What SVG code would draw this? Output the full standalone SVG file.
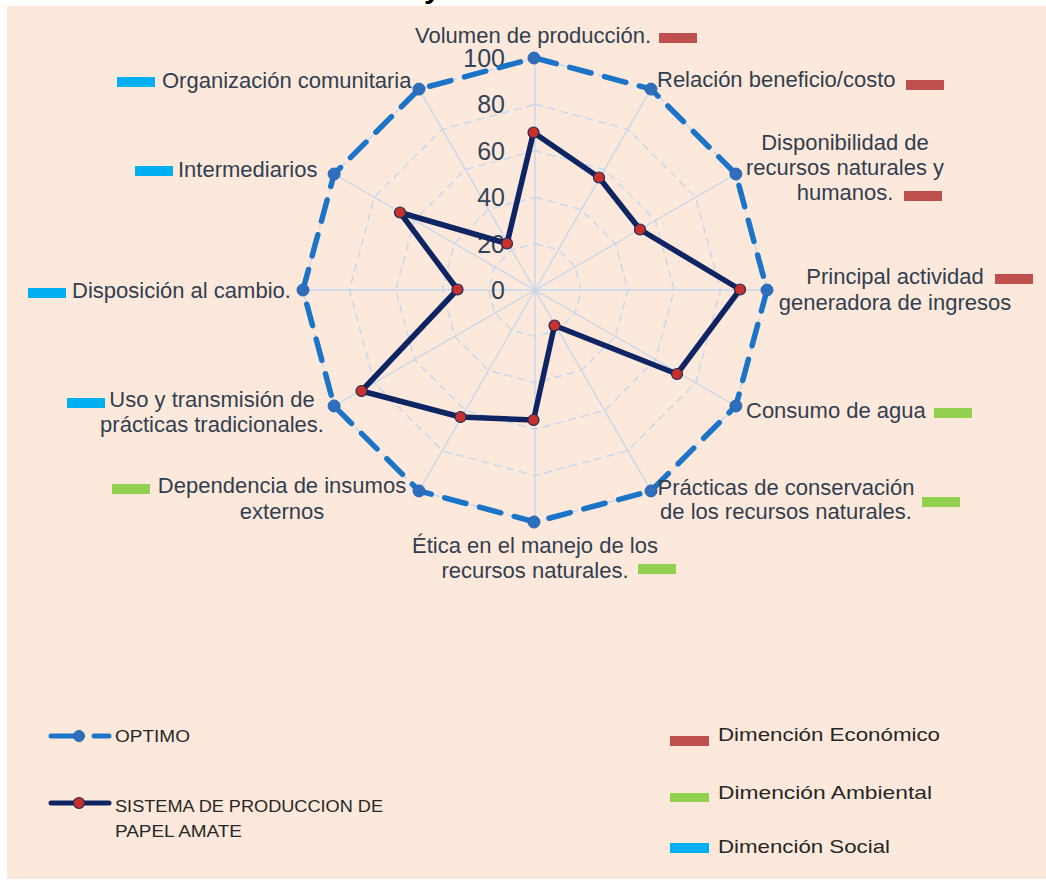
<svg xmlns="http://www.w3.org/2000/svg" width="1046" height="881" viewBox="0 0 1046 881">
<defs>
<style>
.lbl{font-family:"Liberation Sans",Arial,sans-serif;font-size:22px;fill:#323e50}
.mid{text-anchor:middle}
.num{font-family:"Liberation Sans",Arial,sans-serif;font-size:25px;fill:#33435a;text-anchor:end}
.leg{font-family:"Liberation Sans",Arial,sans-serif;font-size:16px;fill:#262626}
.legr{font-family:"Liberation Sans",Arial,sans-serif;font-size:19px;fill:#262626}
.ring{fill:none;stroke:#c6d9f0;stroke-width:1.5;stroke-dasharray:8 5}
.spoke{stroke:#c3d6ee;stroke-width:1.3}
.opt{fill:none;stroke:#1b74c8;stroke-width:5.5;stroke-dasharray:22 14;stroke-linecap:round;stroke-linejoin:round}
.dat{fill:none;stroke:#0e2463;stroke-width:5.5;stroke-linejoin:round}
.om{fill:#2f6ebd;stroke:#2a66b3;stroke-width:1}
.dm{fill:#c8302c;stroke:#1b2a5a;stroke-width:1.2}
.eco{fill:#c0504d}
.amb{fill:#92d050}
.soc{fill:#00b0f0}
</style>
</defs>
<rect x="0" y="0" width="1046" height="881" fill="#ffffff"/>
<rect x="7" y="6" width="1039" height="873" fill="#fce9db"/>
<text x="424" y="-2" font-family="Liberation Sans,Arial,sans-serif" font-size="30" font-weight="bold" fill="#000">y</text>

<g id="grid">
<polygon class="ring" points="535,243.6 558.2,249.8 575.2,266.8 581.4,290 575.2,313.2 558.2,330.2 535,336.4 511.8,330.2 494.8,313.2 488.6,290 494.8,266.8 511.8,249.8"/>
<polygon class="ring" points="535,197.2 581.4,209.6 615.4,243.6 627.8,290 615.4,336.4 581.4,370.4 535,382.8 488.6,370.4 454.6,336.4 442.2,290 454.6,243.6 488.6,209.6"/>
<polygon class="ring" points="535,150.8 604.6,169.5 655.5,220.4 674.2,290 655.5,359.6 604.6,410.5 535,429.2 465.4,410.5 414.5,359.6 395.8,290 414.5,220.4 465.4,169.5"/>
<polygon class="ring" points="535,104.4 627.8,129.3 695.7,197.2 720.6,290 695.7,382.8 627.8,450.7 535,475.6 442.2,450.7 374.3,382.8 349.4,290 374.3,197.2 442.2,129.3"/>
<polygon class="ring" points="535,58 651,89.1 735.9,174 767,290 735.9,406 651,490.9 535,522 419,490.9 334.1,406 303,290 334.1,174 419,89.1"/>
<line class="spoke" x1="535" y1="290" x2="535" y2="58"/>
<line class="spoke" x1="535" y1="290" x2="651" y2="89.1"/>
<line class="spoke" x1="535" y1="290" x2="735.9" y2="174"/>
<line class="spoke" x1="535" y1="290" x2="767" y2="290"/>
<line class="spoke" x1="535" y1="290" x2="735.9" y2="406"/>
<line class="spoke" x1="535" y1="290" x2="651" y2="490.9"/>
<line class="spoke" x1="535" y1="290" x2="535" y2="522"/>
<line class="spoke" x1="535" y1="290" x2="419" y2="490.9"/>
<line class="spoke" x1="535" y1="290" x2="334.1" y2="406"/>
<line class="spoke" x1="535" y1="290" x2="303" y2="290"/>
<line class="spoke" x1="535" y1="290" x2="334.1" y2="174"/>
<line class="spoke" x1="535" y1="290" x2="419" y2="89.1"/>
</g>

<g id="scale">
<text class="num" x="505" y="67">100</text>
<text class="num" x="505" y="113">80</text>
<text class="num" x="505" y="160">60</text>
<text class="num" x="505" y="206">40</text>
<text class="num" x="505" y="253">20</text>
<text class="num" x="505" y="299">0</text>
</g>

<g id="connectors">
<polygon id="optimo-line" class="opt" points="535,58 651,89.1 735.9,174 767,290 735.9,406 651,490.9 535,522 419,490.9 334.1,406 303,290 334.1,174 419,89.1"/>
<polygon id="sistema-line" class="dat" points="533.5,132.5 599,177.5 640,229.5 740,289.5 677,374 554.5,325.5 533.5,420 460.5,417 361.5,391 457.5,289.5 400,212.5 507,243.5"/>
</g>

<g id="optimo-markers">
<circle class="om" cx="534" cy="58" r="6"/>
<circle class="om" cx="651" cy="89.1" r="6"/>
<circle class="om" cx="735.9" cy="174" r="6"/>
<circle class="om" cx="767" cy="290" r="6"/>
<circle class="om" cx="735.9" cy="406" r="6"/>
<circle class="om" cx="651" cy="490.9" r="6"/>
<circle class="om" cx="534" cy="522" r="6"/>
<circle class="om" cx="419" cy="490.9" r="6"/>
<circle class="om" cx="334.1" cy="406" r="6"/>
<circle class="om" cx="303" cy="290" r="6"/>
<circle class="om" cx="334.1" cy="174" r="6"/>
<circle class="om" cx="419" cy="89.1" r="6"/>
</g>
<g id="sistema-markers">
<circle class="dm" cx="533.5" cy="132.5" r="5.5"/>
<circle class="dm" cx="599" cy="177.5" r="5.5"/>
<circle class="dm" cx="640" cy="229.5" r="5.5"/>
<circle class="dm" cx="740" cy="289.5" r="5.5"/>
<circle class="dm" cx="677" cy="374" r="5.5"/>
<circle class="dm" cx="554.5" cy="325.5" r="5.5"/>
<circle class="dm" cx="533.5" cy="420" r="5.5"/>
<circle class="dm" cx="460.5" cy="417" r="5.5"/>
<circle class="dm" cx="361.5" cy="391" r="5.5"/>
<circle class="dm" cx="457.5" cy="289.5" r="5.5"/>
<circle class="dm" cx="400" cy="212.5" r="5.5"/>
<circle class="dm" cx="507" cy="243.5" r="5.5"/>
</g>

<g id="axis-volumen">
<text class="lbl" x="415" y="43">Volumen de producción.</text>
<rect class="eco" x="659" y="33" width="38" height="10"/>
</g>
<g id="axis-relacion">
<text class="lbl" x="657" y="87">Relación beneficio/costo</text>
<rect class="eco" x="906" y="80" width="38" height="10"/>
</g>
<g id="axis-disponibilidad">
<text class="lbl mid" x="845" y="150">Disponibilidad de</text>
<text class="lbl mid" x="845" y="175">recursos naturales y</text>
<text class="lbl mid" x="845" y="200">humanos.</text>
<rect class="eco" x="904" y="191" width="38" height="10"/>
</g>
<g id="axis-principal">
<text class="lbl mid" x="895" y="284">Principal actividad</text>
<text class="lbl mid" x="895" y="310">generadora de ingresos</text>
<rect class="eco" x="995" y="274" width="38" height="10"/>
</g>
<g id="axis-consumo">
<text class="lbl" x="746" y="418">Consumo de agua</text>
<rect class="amb" x="934" y="408" width="38" height="10"/>
</g>
<g id="axis-practicas">
<text class="lbl mid" x="786" y="495">Prácticas de conservación</text>
<text class="lbl mid" x="786" y="519">de los recursos naturales.</text>
<rect class="amb" x="922" y="497" width="38" height="10"/>
</g>
<g id="axis-etica">
<text class="lbl mid" x="535" y="553">Ética en el manejo de los</text>
<text class="lbl mid" x="535" y="578">recursos naturales.</text>
<rect class="amb" x="638" y="564" width="38" height="10"/>
</g>
<g id="axis-dependencia">
<text class="lbl mid" x="282" y="493">Dependencia de insumos</text>
<text class="lbl mid" x="282" y="519">externos</text>
<rect class="amb" x="112" y="484" width="38" height="10"/>
</g>
<g id="axis-uso">
<text class="lbl mid" x="212" y="407">Uso y transmisión de</text>
<text class="lbl mid" x="212" y="432">prácticas tradicionales.</text>
<rect class="soc" x="67" y="398" width="38" height="10"/>
</g>
<g id="axis-disposicion">
<text class="lbl" x="72" y="298">Disposición al cambio.</text>
<rect class="soc" x="28" y="288" width="38" height="10"/>
</g>
<g id="axis-intermediarios">
<text class="lbl" x="178" y="177">Intermediarios</text>
<rect class="soc" x="135" y="166" width="38" height="10"/>
</g>
<g id="axis-organizacion">
<text class="lbl" x="162" y="88">Organización comunitaria</text>
<rect class="soc" x="117" y="77" width="38" height="10"/>
</g>

<g id="legend-series">
<line x1="51" y1="736" x2="74" y2="736" stroke="#1b74c8" stroke-width="5" stroke-linecap="round"/>
<line x1="94" y1="736" x2="109" y2="736" stroke="#1b74c8" stroke-width="5" stroke-linecap="round"/>
<circle class="om" cx="79" cy="736" r="5.5"/>
<text class="leg" x="115" y="742" textLength="75" lengthAdjust="spacingAndGlyphs">OPTIMO</text>
<line x1="51" y1="803" x2="109" y2="803" stroke="#0e2463" stroke-width="5" stroke-linecap="round"/>
<circle class="dm" cx="79" cy="803" r="5.5"/>
<text class="leg" x="115" y="812" textLength="268" lengthAdjust="spacingAndGlyphs">SISTEMA DE PRODUCCION DE</text>
<text class="leg" x="115" y="837" textLength="127" lengthAdjust="spacingAndGlyphs">PAPEL AMATE</text>
</g>
<g id="legend-dimensions">
<rect class="eco" x="670" y="736" width="39" height="10"/>
<text class="legr" x="718" y="741" textLength="222" lengthAdjust="spacingAndGlyphs">Dimención Económico</text>
<rect class="amb" x="670" y="793" width="39" height="9"/>
<text class="legr" x="718" y="799" textLength="214" lengthAdjust="spacingAndGlyphs">Dimención Ambiental</text>
<rect class="soc" x="670" y="843" width="39" height="10"/>
<text class="legr" x="718" y="853" textLength="172" lengthAdjust="spacingAndGlyphs">Dimención Social</text>
</g>
</svg>
